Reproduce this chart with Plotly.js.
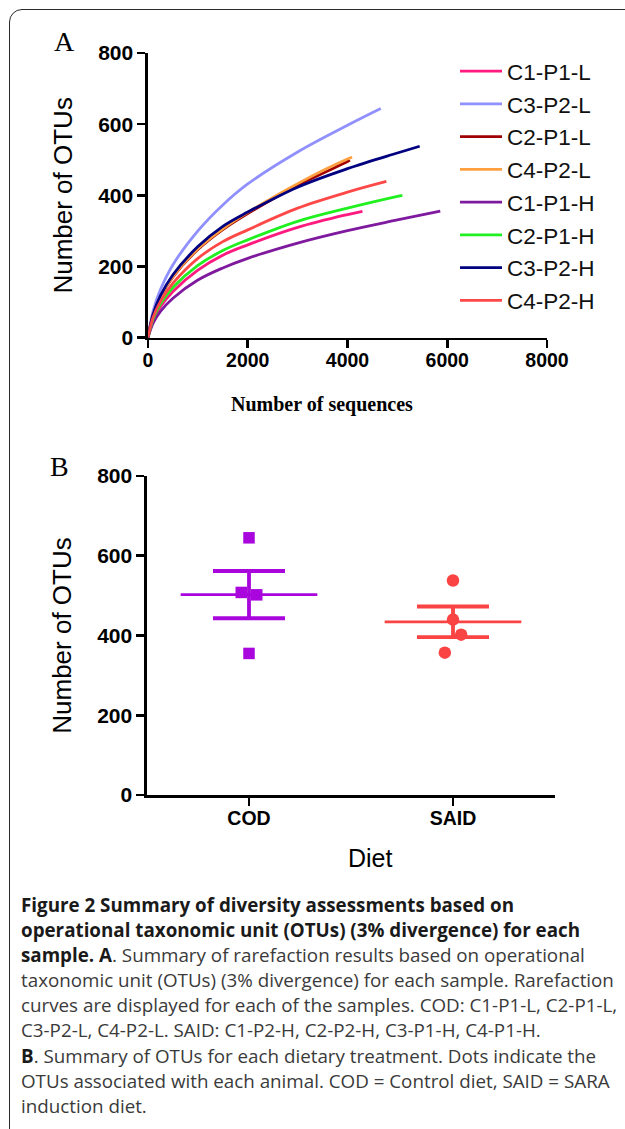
<!DOCTYPE html>
<html>
<head>
<meta charset="utf-8">
<script src="https://cdn.plot.ly/plotly-3.0.1.min.js"></script>
<style>
  html, body { margin: 0; padding: 0; width: 625px; height: 1129px; overflow: hidden; background: #fff; }
  #frame { position: absolute; left: 9px; top: 9px; width: 720px; height: 1200px;
           border: 1.8px solid #2a2a2a; border-radius: 13px; box-sizing: border-box; }
  #chart { position: absolute; left: 0; top: 0; width: 625px; height: 1129px; }
  #caption { position: absolute; left: 21px; top: 893px; font-family: "Open Sans", sans-serif;
             font-size: 18.8px; line-height: 25.1px; color: #3a3a3a; white-space: nowrap; }
  #caption b { color: #1a1a1a; font-weight: 700; }
</style>
</head>
<body>
<div id="frame"></div>
<div id="chart"></div>
<div id="caption">
<b>Figure 2 Summary of diversity assessments based on</b><br>
<b>operational taxonomic unit (OTUs) (3% divergence) for each</b><br>
<b>sample. A</b>. Summary of rarefaction results based on operational<br>
taxonomic unit (OTUs) (3% divergence) for each sample. Rarefaction<br>
curves are displayed for each of the samples. COD: C1-P1-L, C2-P1-L,<br>
C3-P2-L, C4-P2-L. SAID: C1-P2-H, C2-P2-H, C3-P1-H, C4-P1-H.<br>
<b>B</b>. Summary of OTUs for each dietary treatment. Dots indicate the<br>
OTUs associated with each animal. COD = Control diet, SAID = SARA<br>
induction diet.
</div>
<script>
// ---------- Panel A: rarefaction curves ----------
const sampleNames = ["C1-P1-L", "C3-P2-L", "C2-P1-L", "C4-P2-L", "C1-P1-H", "C2-P1-H", "C3-P2-H", "C4-P2-H"];
const sampleColors = ["#ff1a80", "#9090ff", "#a00000", "#ffa040", "#7f1a9f", "#20f020", "#000080", "#ff4848"];

const seqC1P1L = [0, 100, 250, 500, 1000, 1500, 2000, 3000, 4000, 4300];
const otuC1P1L = [0, 47, 87, 130, 190, 232, 261, 310, 346, 355];

const seqC3P2L = [0, 100, 250, 500, 1000, 1500, 2000, 3000, 4000, 4667];
const otuC3P2L = [0, 74, 135, 205, 300, 373, 432, 522, 597, 644];

const seqC2P1L = [0, 100, 250, 500, 1000, 1500, 2000, 3000, 4000, 4047];
const otuC2P1L = [0, 63, 114, 171, 248, 304, 349, 428, 495, 499];

const seqC4P2L = [0, 100, 250, 500, 1000, 1500, 2000, 3000, 4000, 4093];
const otuC4P2L = [0, 63, 115, 172, 250, 306, 352, 433, 502, 507];

const seqC1P1H = [0, 100, 250, 500, 1000, 1500, 2000, 3000, 4000, 5000, 5860];
const otuC1P1H = [0, 40, 74, 111, 162, 196, 223, 266, 301, 331, 356];

const seqC2P1H = [0, 100, 250, 500, 1000, 1500, 2000, 3000, 4000, 5000, 5100];
const otuC2P1H = [0, 52, 95, 141, 203, 245, 275, 327, 364, 397, 400];

const seqC3P2H = [0, 100, 250, 500, 1000, 1500, 2000, 3000, 4000, 5000, 5447];
const otuC3P2H = [0, 65, 118, 177, 256, 313, 353, 423, 475, 519, 538];

const seqC4P2H = [0, 100, 250, 500, 1000, 1500, 2000, 3000, 4000, 4780];
const otuC4P2H = [0, 56, 102, 153, 223, 270, 303, 364, 409, 439];

const seqSeries = [seqC1P1L, seqC3P2L, seqC2P1L, seqC4P2L, seqC1P1H, seqC2P1H, seqC3P2H, seqC4P2H];
const otuSeries = [otuC1P1L, otuC3P2L, otuC2P1L, otuC4P2L, otuC1P1H, otuC2P1H, otuC3P2H, otuC4P2H];

const xTicksA = [0, 2000, 4000, 6000, 8000];
const yTicks = [0, 200, 400, 600, 800];

// ---------- Panel B: OTUs per diet ----------
const dietCategories = ["COD", "SAID"];
const codOTUs = [645, 508, 502, 355];
const saidOTUs = [538, 440, 402, 357];
const codJitter = [0, -0.038, 0.038, 0];
const saidJitter = [0, 0, 0.04, -0.04];
const dietColors = ["#a806dc", "#fa4343"];
const dietSymbols = ["square", "circle"];

// ---------- layout helpers ----------
const W = 625, H = 1129;
const px = x => x / W;
const py = y => 1 - y / H;

const traces = [];
for (let i = 0; i < sampleNames.length; i++) {
  traces.push({
    x: seqSeries[i], y: otuSeries[i], type: "scatter", mode: "lines",
    name: sampleNames[i], legendgroup: sampleNames[i],
    line: { color: sampleColors[i], width: 2.8, shape: "spline", smoothing: 1 },
    xaxis: "x", yaxis: "y", hoverinfo: "skip"
  });
}

function mean(a) { return a.reduce((s, v) => s + v, 0) / a.length; }
function sem(a) {
  const m = mean(a);
  const sd = Math.sqrt(a.reduce((s, v) => s + (v - m) * (v - m), 0) / (a.length - 1));
  return sd / Math.sqrt(a.length);
}

const groups = [codOTUs, saidOTUs];
const jitters = [codJitter, saidJitter];
for (let g = 0; g < groups.length; g++) {
  const m = mean(groups[g]), e = sem(groups[g]);
  traces.push({
    x: [g - 0.335, g + 0.335], y: [m, m], type: "scatter", mode: "lines",
    line: { color: dietColors[g], width: 2.6 }, showlegend: false,
    xaxis: "x2", yaxis: "y2", hoverinfo: "skip"
  });
  traces.push({
    x: [g], y: [m], type: "scatter", mode: "markers",
    marker: { size: 1, color: dietColors[g], opacity: 0 },
    error_y: { type: "data", array: [e], visible: true, color: dietColors[g], thickness: 3.8, width: 36 },
    showlegend: false, xaxis: "x2", yaxis: "y2", hoverinfo: "skip"
  });
  traces.push({
    x: groups[g].map((v, k) => g + jitters[g][k]), y: groups[g], type: "scatter", mode: "markers",
    marker: { symbol: dietSymbols[g], size: dietSymbols[g] === "square" ? 11.5 : 12.5, color: dietColors[g] },
    showlegend: false, xaxis: "x2", yaxis: "y2", hoverinfo: "skip"
  });
}

const sansFam = "Liberation Sans, Arial, sans-serif";
const serifFam = "Liberation Serif, Times New Roman, serif";
const xTickFont = { family: sansFam, size: 19.5, color: "#000", weight: "bold" };
const yTickFont = { family: sansFam, size: 21, color: "#000", weight: "bold" };
const axisCommon = {
  showgrid: false, zeroline: false, showline: true, linecolor: "#000", linewidth: 2.6,
  ticks: "outside", ticklen: 8, tickwidth: 2.6, tickcolor: "#000", fixedrange: true
};
const yTitle = { text: "Number of OTUs", font: { family: sansFam, size: 26, color: "#000" }, standoff: 18 };

const layout = {
  width: W, height: H,
  margin: { l: 0, r: 0, t: 0, b: 0 },
  paper_bgcolor: "rgba(0,0,0,0)", plot_bgcolor: "rgba(0,0,0,0)",
  showlegend: true,
  legend: {
    x: px(455), y: py(50), xanchor: "left", yanchor: "top", itemwidth: 42,
    font: { family: sansFam, size: 22.5, color: "#111" },
    bgcolor: "rgba(0,0,0,0)", tracegroupgap: 0.5, itemclick: false, itemdoubleclick: false
  },
  xaxis: Object.assign({}, axisCommon, {
    domain: [px(148), px(547)], range: [0, 8000], tickvals: xTicksA, anchor: "y",
    tickfont: xTickFont, ticklabelstandoff: -5
  }),
  yaxis: Object.assign({}, axisCommon, {
    domain: [py(337.7), py(53)], range: [0, 800], tickvals: yTicks, anchor: "x",
    tickfont: yTickFont, title: yTitle
  }),
  xaxis2: Object.assign({}, axisCommon, {
    domain: [px(147), px(555)], range: [-0.5, 1.5], tickvals: [0, 1], ticktext: dietCategories, anchor: "y2",
    tickfont: xTickFont, ticklabelstandoff: -4
  }),
  yaxis2: Object.assign({}, axisCommon, {
    domain: [py(795), py(476)], range: [0, 800], tickvals: yTicks, anchor: "x2",
    tickfont: yTickFont, title: yTitle
  }),
  annotations: [
    { text: "A", x: px(64), y: py(42), xref: "paper", yref: "paper", xanchor: "center", yanchor: "middle",
      showarrow: false, font: { family: serifFam, size: 28, color: "#000" } },
    { text: "B", x: px(59), y: py(466), xref: "paper", yref: "paper", xanchor: "center", yanchor: "middle",
      showarrow: false, font: { family: serifFam, size: 28, color: "#000" } },
    { text: "<b>Number of sequences</b>", x: px(322), y: py(404), xref: "paper", yref: "paper",
      xanchor: "center", yanchor: "middle", showarrow: false,
      font: { family: serifFam, size: 20, color: "#000" } },
    { text: "Diet", x: px(370), y: py(858), xref: "paper", yref: "paper",
      xanchor: "center", yanchor: "middle", showarrow: false,
      font: { family: sansFam, size: 25, color: "#000" } }
  ]
};

Plotly.newPlot("chart", traces, layout, { staticPlot: true, displayModeBar: false });
</script>
</body>
</html>
